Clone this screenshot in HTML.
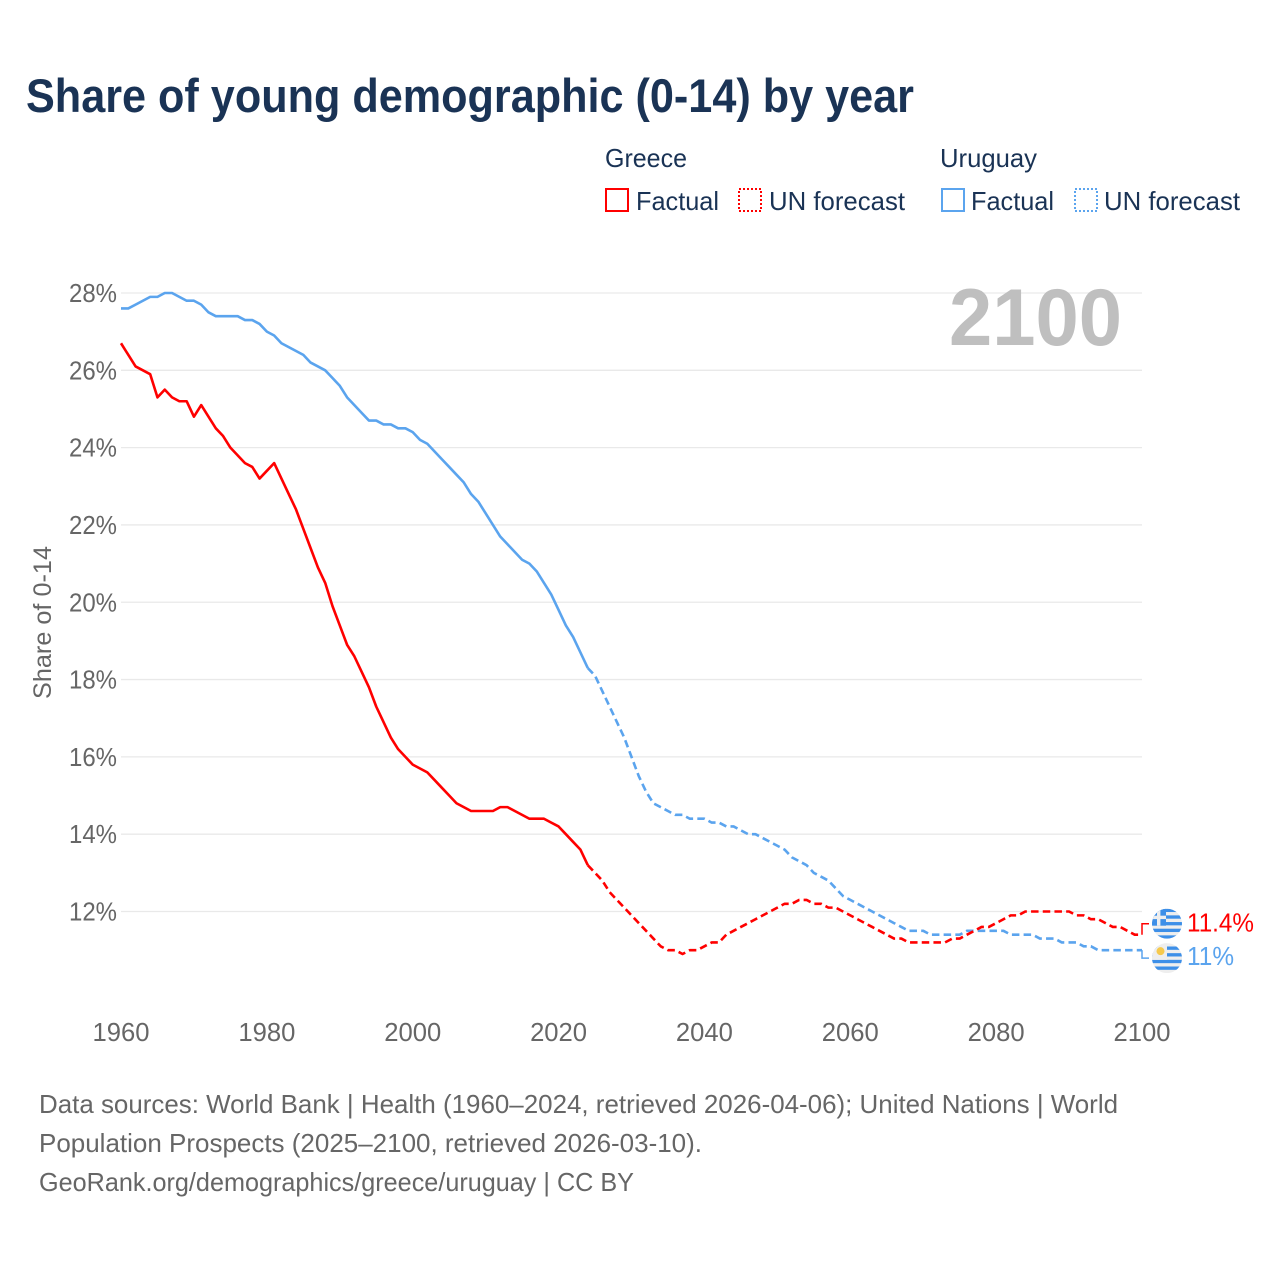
<!DOCTYPE html>
<html lang="en">
<head>
<meta charset="utf-8">
<title>Share of young demographic (0-14) by year</title>
<style>
html,body{margin:0;padding:0;background:#fff;}
svg{display:block;font-family:"Liberation Sans",sans-serif;}
</style>
</head>
<body>
<svg id="chart" xmlns="http://www.w3.org/2000/svg" width="1280" height="1280" viewBox="0 0 1280 1280">
  <rect width="1280" height="1280" fill="#fff"/>
  <text x="26" y="112" font-size="47" font-weight="700" fill="#1a3355" textLength="888" lengthAdjust="spacingAndGlyphs">Share of young demographic (0-14) by year</text>

  <g font-size="26" fill="#1a3355">
    <text x="605" y="167" textLength="82" lengthAdjust="spacingAndGlyphs">Greece</text>
    <rect x="606" y="189" width="22" height="22" fill="none" stroke="#ff0000" stroke-width="2"/>
    <text x="636" y="210" textLength="83" lengthAdjust="spacingAndGlyphs">Factual</text>
    <rect x="739" y="189" width="22" height="22" fill="none" stroke="#ff0000" stroke-width="2" stroke-dasharray="2 2"/>
    <text x="769" y="210" textLength="136" lengthAdjust="spacingAndGlyphs">UN forecast</text>
    <text x="940" y="167" textLength="97" lengthAdjust="spacingAndGlyphs">Uruguay</text>
    <rect x="942" y="189" width="22" height="22" fill="none" stroke="#5ba4ee" stroke-width="2"/>
    <text x="971" y="210" textLength="83" lengthAdjust="spacingAndGlyphs">Factual</text>
    <rect x="1075" y="189" width="22" height="22" fill="none" stroke="#5ba4ee" stroke-width="2" stroke-dasharray="2 2"/>
    <text x="1104" y="210" textLength="136" lengthAdjust="spacingAndGlyphs">UN forecast</text>
  </g>

  <g id="grid"></g>
  <g id="yticks" font-size="26" fill="#666"></g>
  <g id="xticks" font-size="26" fill="#666"></g>

  <text transform="translate(51 622.5) rotate(-90)" text-anchor="middle" font-size="25" fill="#666" textLength="153" lengthAdjust="spacingAndGlyphs">Share of 0-14</text>
  <text x="949" y="345" font-size="81" font-weight="700" fill="#bfbfbf" textLength="173" lengthAdjust="spacingAndGlyphs">2100</text>

  <g id="series"></g>

  <defs>
    <clipPath id="clip-greece"><circle id="clip-greece-circle" cx="1167" cy="0" r="15"/></clipPath>
    <clipPath id="clip-uruguay"><circle id="clip-uruguay-circle" cx="1167" cy="0" r="15"/></clipPath>
  </defs>
  <g id="end-markers"></g>

  <g font-size="26" fill="#666">
    <text x="39" y="1113" textLength="1079" lengthAdjust="spacingAndGlyphs">Data sources: World Bank | Health (1960–2024, retrieved 2026-04-06); United Nations | World</text>
    <text x="39" y="1152" textLength="663" lengthAdjust="spacingAndGlyphs">Population Prospects (2025–2100, retrieved 2026-03-10).</text>
    <text x="39" y="1191" textLength="595" lengthAdjust="spacingAndGlyphs">GeoRank.org/demographics/greece/uruguay | CC BY</text>
  </g>
</svg>
<script>
const yTickValues = [12, 14, 16, 18, 20, 22, 24, 26, 28];
const xTickYears = [1960, 1980, 2000, 2020, 2040, 2060, 2080, 2100];
const factualStartYear = 1960;
const forecastStartYear = 2024;
const greeceFactual = [26.7,26.4,26.1,26.0,25.9,25.3,25.5,25.3,25.2,25.2,
  24.8,25.1,24.8,24.5,24.3,24.0,23.8,23.6,23.5,23.2,
  23.4,23.6,23.2,22.8,22.4,21.9,21.4,20.9,20.5,19.9,
  19.4,18.9,18.6,18.2,17.8,17.3,16.9,16.5,16.2,16.0,
  15.8,15.7,15.6,15.4,15.2,15.0,14.8,14.7,14.6,14.6,
  14.6,14.6,14.7,14.7,14.6,14.5,14.4,14.4,14.4,14.3,
  14.2,14.0,13.8,13.6,13.2];
const greeceForecast = [13.2,13.0,12.8,12.5,12.3,12.1,11.9,11.7,11.5,11.3,11.1,11.0,11.0,10.9,11.0,11.0,
  11.1,11.2,11.2,11.4,11.5,11.6,11.7,11.8,11.9,12.0,
  12.1,12.2,12.2,12.3,12.3,12.2,12.2,12.1,12.1,12.0,
  11.9,11.8,11.7,11.6,11.5,11.4,11.3,11.3,11.2,11.2,
  11.2,11.2,11.2,11.2,11.3,11.3,11.4,11.5,11.6,11.6,
  11.7,11.8,11.9,11.9,12.0,12.0,12.0,12.0,12.0,12.0,
  12.0,11.9,11.9,11.8,11.8,11.7,11.6,11.6,11.5,11.4,11.4];
const uruguayFactual = [27.6,27.6,27.7,27.8,27.9,27.9,28.0,28.0,27.9,27.8,
  27.8,27.7,27.5,27.4,27.4,27.4,27.4,27.3,27.3,27.2,
  27.0,26.9,26.7,26.6,26.5,26.4,26.2,26.1,26.0,25.8,
  25.6,25.3,25.1,24.9,24.7,24.7,24.6,24.6,24.5,24.5,
  24.4,24.2,24.1,23.9,23.7,23.5,23.3,23.1,22.8,22.6,
  22.3,22.0,21.7,21.5,21.3,21.1,21.0,20.8,20.5,20.2,
  19.8,19.4,19.1,18.7,18.3];
const uruguayForecast = [18.3,18.1,17.7,17.3,16.9,16.5,16.0,15.5,15.1,14.8,14.7,14.6,14.5,14.5,14.4,14.4,
  14.4,14.3,14.3,14.2,14.2,14.1,14.0,14.0,13.9,13.8,
  13.7,13.6,13.4,13.3,13.2,13.0,12.9,12.8,12.6,12.4,
  12.3,12.2,12.1,12.0,11.9,11.8,11.7,11.6,11.5,11.5,
  11.5,11.4,11.4,11.4,11.4,11.4,11.5,11.5,11.5,11.5,
  11.5,11.5,11.4,11.4,11.4,11.4,11.3,11.3,11.3,11.2,
  11.2,11.2,11.1,11.1,11.0,11.0,11.0,11.0,11.0,11.0,11.0];

const SVG_NS = 'http://www.w3.org/2000/svg';
const xOf = function (year) { return 121 + (year - 1960) * (1021 / 140); };
const yOf = function (v) { return 911.5 - (v - 12) * (618.5 / 16); };
function make(tag, attrs, parent) {
  const el = document.createElementNS(SVG_NS, tag);
  for (const k in attrs) { el.setAttribute(k, attrs[k]); }
  parent.appendChild(el);
  return el;
}
function pointsOf(values, startYear) {
  return values.map(function (v, i) {
    return xOf(startYear + i).toFixed(2) + ',' + yOf(v).toFixed(2);
  }).join(' ');
}

const grid = document.getElementById('grid');
const yticks = document.getElementById('yticks');
yTickValues.forEach(function (v) {
  const line = make('line', { x1: 121, x2: 1142, y1: yOf(v), y2: yOf(v), stroke: '#e9e9e9', 'stroke-width': 1.3 }, grid);
  
  
  const t = make('text', { x: 117, y: yOf(v) + 9, 'text-anchor': 'end', textLength: 48, lengthAdjust: 'spacingAndGlyphs' }, yticks);
  t.textContent = v + '%';
  
  
});

const xticks = document.getElementById('xticks');
xTickYears.forEach(function (yr) {
  const t = make('text', { x: xOf(yr), y: 1041, 'text-anchor': 'middle', textLength: 57, lengthAdjust: 'spacingAndGlyphs' }, xticks);
  t.textContent = yr;
  
  
});

const series = document.getElementById('series');
const GREECE = '#ff0000';
const URUGUAY = '#5ba4ee';
const common = { fill: 'none', 'stroke-width': 2.6, 'stroke-linejoin': 'round' };

const uf = make('polyline', Object.assign({ points: pointsOf(uruguayFactual, factualStartYear), stroke: URUGUAY }, common), series);


const uc = make('polyline', Object.assign({ points: pointsOf(uruguayForecast, forecastStartYear), stroke: URUGUAY, 'stroke-dasharray': '7.5 4.2' }, common), series);


const gf = make('polyline', Object.assign({ points: pointsOf(greeceFactual, factualStartYear), stroke: GREECE }, common), series);


const gc = make('polyline', Object.assign({ points: pointsOf(greeceForecast, forecastStartYear), stroke: GREECE, 'stroke-dasharray': '7.5 4.2' }, common), series);



const markers = document.getElementById('end-markers');
const endX = xOf(2100);
const gLast = greeceForecast[greeceForecast.length - 1];
const uLast = uruguayForecast[uruguayForecast.length - 1];
const gEndY = yOf(gLast);
const uEndY = yOf(uLast);
const gFlagY = gEndY - 11;
const uFlagY = uEndY + 8;

const gConn = make('polyline', { points: endX + ',' + gEndY + ' ' + endX + ',' + gFlagY + ' ' + (endX + 7) + ',' + gFlagY, fill: 'none', stroke: GREECE, 'stroke-width': 1.5 }, markers);


const uConn = make('polyline', { points: endX + ',' + uEndY + ' ' + endX + ',' + uFlagY + ' ' + (endX + 7) + ',' + uFlagY, fill: 'none', stroke: URUGUAY, 'stroke-width': 1.5 }, markers);



document.getElementById('clip-greece-circle').setAttribute('cy', gFlagY);
document.getElementById('clip-uruguay-circle').setAttribute('cy', uFlagY);

const FLAG_BLUE = '#3d8fe8';
const FLAG_LIGHT = '#eeeeee';

const gFlag = make('g', { 'clip-path': 'url(#clip-greece)' }, markers);


make('rect', { x: 1152, y: gFlagY - 15, width: 30, height: 30, fill: FLAG_LIGHT }, gFlag);
for (let i = 0; i < 9; i += 2) {
  make('rect', { x: 1152, y: gFlagY - 15 + i * (30 / 9), width: 30, height: 30 / 9, fill: FLAG_BLUE }, gFlag);
}
make('rect', { x: 1152, y: gFlagY - 15, width: 14, height: 17, fill: FLAG_BLUE }, gFlag);
make('rect', { x: 1157, y: gFlagY - 15, width: 3.4, height: 17, fill: FLAG_LIGHT }, gFlag);
make('rect', { x: 1152, y: gFlagY - 8, width: 14, height: 3.4, fill: FLAG_LIGHT }, gFlag);

const uFlag = make('g', { 'clip-path': 'url(#clip-uruguay)' }, markers);


make('rect', { x: 1152, y: uFlagY - 15, width: 30, height: 30, fill: FLAG_LIGHT }, uFlag);
for (let i = 1; i < 9; i += 2) {
  make('rect', { x: 1152, y: uFlagY - 15 + i * (30 / 9), width: 30, height: 30 / 9, fill: FLAG_BLUE }, uFlag);
}
make('rect', { x: 1152, y: uFlagY - 15, width: 15, height: 16.7, fill: FLAG_LIGHT }, uFlag);
make('circle', { cx: 1160.5, cy: uFlagY - 7, r: 4, fill: '#f6c94c' }, uFlag);

const gLabel = make('text', { x: 1187, y: gFlagY + 8, 'font-size': 26, fill: GREECE, textLength: 67, lengthAdjust: 'spacingAndGlyphs' }, markers);
gLabel.textContent = gLast + '%';


const uLabel = make('text', { x: 1187, y: uFlagY + 7, 'font-size': 26, fill: URUGUAY, textLength: 47, lengthAdjust: 'spacingAndGlyphs' }, markers);
uLabel.textContent = uLast + '%';


</script>
</body>
</html>
